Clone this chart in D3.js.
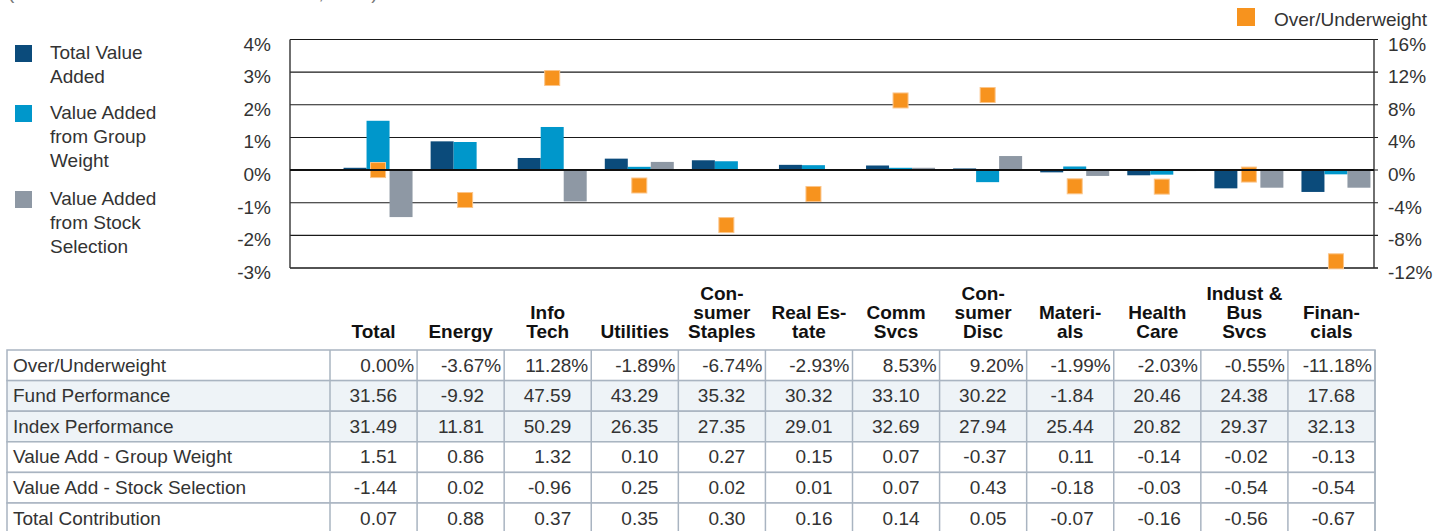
<!DOCTYPE html>
<html>
<head>
<meta charset="utf-8">
<script src="https://cdn.jsdelivr.net/npm/d3@7"></script>
<style>
  body { margin: 0; background: #fff; }
  svg { font-family: "Liberation Sans", Arial, Helvetica, sans-serif; }
</style>
</head>
<body>
<div id="svg_container"></div>
<script>
/* -----------------------
data
------------------------- */

var categories = ["Total", "Energy", "Info Tech", "Utilities", "Consumer Staples", "Real Estate",
  "Comm Svcs", "Consumer Disc", "Materials", "Health Care", "Indust & Bus Svcs", "Financials"];

// header labels as they are broken in the table
var headerLines = [["Total"], ["Energy"], ["Info", "Tech"], ["Utilities"], ["Con-", "sumer", "Staples"],
  ["Real Es-", "tate"], ["Comm", "Svcs"], ["Con-", "sumer", "Disc"], ["Materi-", "als"],
  ["Health", "Care"], ["Indust &", "Bus", "Svcs"], ["Finan-", "cials"]];

var overUnder = [0.00, -3.67, 11.28, -1.89, -6.74, -2.93, 8.53, 9.20, -1.99, -2.03, -0.55, -11.18];
var fundPerf = [31.56, -9.92, 47.59, 43.29, 35.32, 30.32, 33.10, 30.22, -1.84, 20.46, 24.38, 17.68];
var indexPerf = [31.49, 11.81, 50.29, 26.35, 27.35, 29.01, 32.69, 27.94, 25.44, 20.82, 29.37, 32.13];
var groupWeight = [1.51, 0.86, 1.32, 0.10, 0.27, 0.15, 0.07, -0.37, 0.11, -0.14, -0.02, -0.13];
var stockSel = [-1.44, 0.02, -0.96, 0.25, 0.02, 0.01, 0.07, 0.43, -0.18, -0.03, -0.54, -0.54];
var totalContrib = [0.07, 0.88, 0.37, 0.35, 0.30, 0.16, 0.14, 0.05, -0.07, -0.16, -0.56, -0.67];

var leftTicks = [-3, -2, -1, 0, 1, 2, 3, 4];
var rightTicks = [-12, -8, -4, 0, 4, 8, 12, 16];

var seriesNames = ["Total Value Added", "Value Added from Group Weight", "Value Added from Stock Selection"];
var seriesValues = [totalContrib, groupWeight, stockSel];
var legendLines = [["Total Value", "Added"], ["Value Added", "from Group", "Weight"], ["Value Added", "from Stock", "Selection"]];

var rowLabels = ["Over/Underweight", "Fund Performance", "Index Performance",
  "Value Add - Group Weight", "Value Add - Stock Selection", "Total Contribution"];
var rowValues = [overUnder, fundPerf, indexPerf, groupWeight, stockSel, totalContrib];

/* -----------------------
main variables
------------------------- */

var width = 1450;
var height = 531;
var colors = ["#0b4b7b", "#0097cb", "#8e98a4"];
var orange = "#f7931e";
var textColor = "#333";

var plotLeft = 290, plotRight = 1374, plotTop = 39.5, plotBottom = 268;

var svg = d3.select("#svg_container")
  .append("svg")
  .attr("width", width)
  .attr("height", height)
  .attr("viewBox", "0 0 " + width + " " + height);

// subtitle, cut off by the top edge as in the original
svg.append("text")
  .attr("x", 8).attr("y", -1)
  .attr("font-size", 19).attr("fill", "#777")
  .text("(Twelve months ended December 31, 2024)");

/* -----------------------
scales
------------------------- */

var yL = d3.scaleLinear().domain([-3, 4]).range([plotBottom, plotTop]);
var yR = d3.scaleLinear().domain([-12, 16]).range([plotBottom, plotTop]);

var x = d3.scaleBand().domain(categories).range([334.5, 1379.5]);
var xInner = d3.scaleBand().domain(seriesNames).range([-34.5, 34.5]);

// table columns
var xT = d3.scaleBand().domain(categories).range([330, 1375]);

/* -----------------------
grid and axes
------------------------- */

var grid = svg.append("g");

grid.selectAll("line.grid")
  .data(leftTicks)
  .enter()
  .append("line")
  .attr("class", "grid")
  .attr("x1", plotLeft)
  .attr("x2", plotRight + 4)
  .attr("y1", function (d) { return yL(d); })
  .attr("y2", function (d) { return yL(d); })
  .attr("stroke", "#1a1a1a")
  .attr("stroke-width", function (d) { return (d === -3) ? 1.6 : 1.1; });

grid.append("line")
  .attr("x1", plotLeft).attr("x2", plotLeft)
  .attr("y1", plotTop).attr("y2", plotBottom)
  .attr("stroke", "#333").attr("stroke-width", 1.4);

grid.append("line")
  .attr("x1", plotRight).attr("x2", plotRight)
  .attr("y1", plotTop).attr("y2", plotBottom)
  .attr("stroke", "#333").attr("stroke-width", 1.4);

svg.append("g")
  .selectAll("text")
  .data(leftTicks)
  .enter()
  .append("text")
  .attr("x", 271)
  .attr("y", function (d) { return yL(d) + 11; })
  .attr("text-anchor", "end")
  .attr("font-size", 19)
  .attr("fill", textColor)
  .text(function (d) { return d + "%"; });

svg.append("g")
  .selectAll("text")
  .data(rightTicks)
  .enter()
  .append("text")
  .attr("x", 1388)
  .attr("y", function (d) { return yR(d) + 11; })
  .attr("font-size", 19)
  .attr("fill", textColor)
  .text(function (d) { return d + "%"; });

/* -----------------------
bars
------------------------- */

var group = svg.selectAll(".cat")
  .data(categories)
  .enter()
  .append("g")
  .attr("class", "cat")
  .attr("transform", function (d) { return "translate(" + (x(d) + x.bandwidth() / 2) + ",0)"; });

seriesNames.forEach(function (s, si) {
  group.append("rect")
    .attr("x", xInner(s))
    .attr("width", xInner.bandwidth())
    .attr("y", function (d, i) { return yL(Math.max(0, seriesValues[si][i])); })
    .attr("height", function (d, i) { return Math.abs(yL(seriesValues[si][i]) - yL(0)); })
    .attr("fill", colors[si]);
});

// zero line over the bars
svg.append("line")
  .attr("x1", plotLeft).attr("x2", plotRight)
  .attr("y1", yL(0)).attr("y2", yL(0))
  .attr("stroke", "#111").attr("stroke-width", 2);

// over/underweight markers
group.append("rect")
  .attr("x", xInner(seriesNames[1]) + xInner.bandwidth() / 2 - 7.5)
  .attr("y", function (d, i) { return yR(overUnder[i]) - 7.5; })
  .attr("width", 15)
  .attr("height", 15)
  .attr("fill", orange)
  .attr("stroke", "#fbc58a")
  .attr("stroke-width", 1);

/* -----------------------
legends
------------------------- */

var legendY = [45, 105, 191];

var legend = svg.selectAll(".legend")
  .data(seriesNames)
  .enter()
  .append("g")
  .attr("class", "legend")
  .attr("transform", function (d, i) { return "translate(15," + legendY[i] + ")"; });

legend.append("rect")
  .attr("width", 17).attr("height", 17)
  .attr("fill", function (d, i) { return colors[i]; });

legend.append("text")
  .attr("font-size", 19)
  .attr("fill", textColor)
  .selectAll("tspan")
  .data(function (d, i) { return legendLines[i]; })
  .enter()
  .append("tspan")
  .attr("x", 35)
  .attr("y", function (d, j) { return 14 + j * 24; })
  .text(function (d) { return d; });

svg.append("rect")
  .attr("x", 1237).attr("y", 8)
  .attr("width", 18).attr("height", 18)
  .attr("fill", orange);

svg.append("text")
  .attr("x", 1274).attr("y", 26)
  .attr("font-size", 19)
  .attr("fill", textColor)
  .text("Over/Underweight");

/* -----------------------
table
------------------------- */

var tableTop = 350, rowH = 30.6, tableLeft = 7;

var header = svg.selectAll(".head")
  .data(categories)
  .enter()
  .append("text")
  .attr("class", "head")
  .attr("font-size", 19)
  .attr("font-weight", "bold")
  .attr("fill", "#111")
  .attr("text-anchor", "middle");

header.selectAll("tspan")
  .data(function (d, i) { return headerLines[i]; })
  .enter()
  .append("tspan")
  .attr("x", function () {
    var c = d3.select(this.parentNode).datum();
    return xT(c) + xT.bandwidth() / 2;
  })
  .attr("y", function (d, j) {
    var c = d3.select(this.parentNode).datum();
    var n = headerLines[categories.indexOf(c)].length;
    return 338 - (n - 1 - j) * 19;
  })
  .text(function (d) { return d; });

var row = svg.selectAll(".row")
  .data(rowLabels)
  .enter()
  .append("g")
  .attr("class", "row")
  .attr("transform", function (d, i) { return "translate(0," + (tableTop + i * rowH) + ")"; });

row.append("rect")
  .attr("x", tableLeft)
  .attr("width", 1375 - tableLeft)
  .attr("height", rowH)
  .attr("fill", function (d, i) { return (i === 1 || i === 2) ? "#eef3f7" : "#fff"; })
  .attr("stroke", "#a9b4c1")
  .attr("stroke-width", 1.5);

row.append("line")
  .attr("x1", 330).attr("x2", 330)
  .attr("y1", 0).attr("y2", rowH)
  .attr("stroke", "#a9b4c1").attr("stroke-width", 1.5);

row.selectAll("line.col")
  .data(categories)
  .enter()
  .append("line")
  .attr("class", "col")
  .attr("x1", function (d) { return xT(d) + xT.bandwidth(); })
  .attr("x2", function (d) { return xT(d) + xT.bandwidth(); })
  .attr("y1", 0).attr("y2", rowH)
  .attr("stroke", "#a9b4c1").attr("stroke-width", 1.5);

row.append("text")
  .attr("x", 13)
  .attr("y", 21.5)
  .attr("font-size", 19)
  .attr("fill", textColor)
  .text(function (d) { return d; });

row.each(function (label, ri) {
  d3.select(this).selectAll("text.val")
    .data(rowValues[ri])
    .enter()
    .append("text")
    .attr("class", "val")
    .attr("x", function (d, i) {
      var right = xT(categories[i]) + xT.bandwidth();
      return ri === 0 ? right - 3 : right - 20;
    })
    .attr("y", 21.5)
    .attr("text-anchor", "end")
    .attr("font-size", 19)
    .attr("fill", textColor)
    .text(function (d) { return ri === 0 ? d.toFixed(2) + "%" : d.toFixed(2); });
});
</script>
</body>
</html>
